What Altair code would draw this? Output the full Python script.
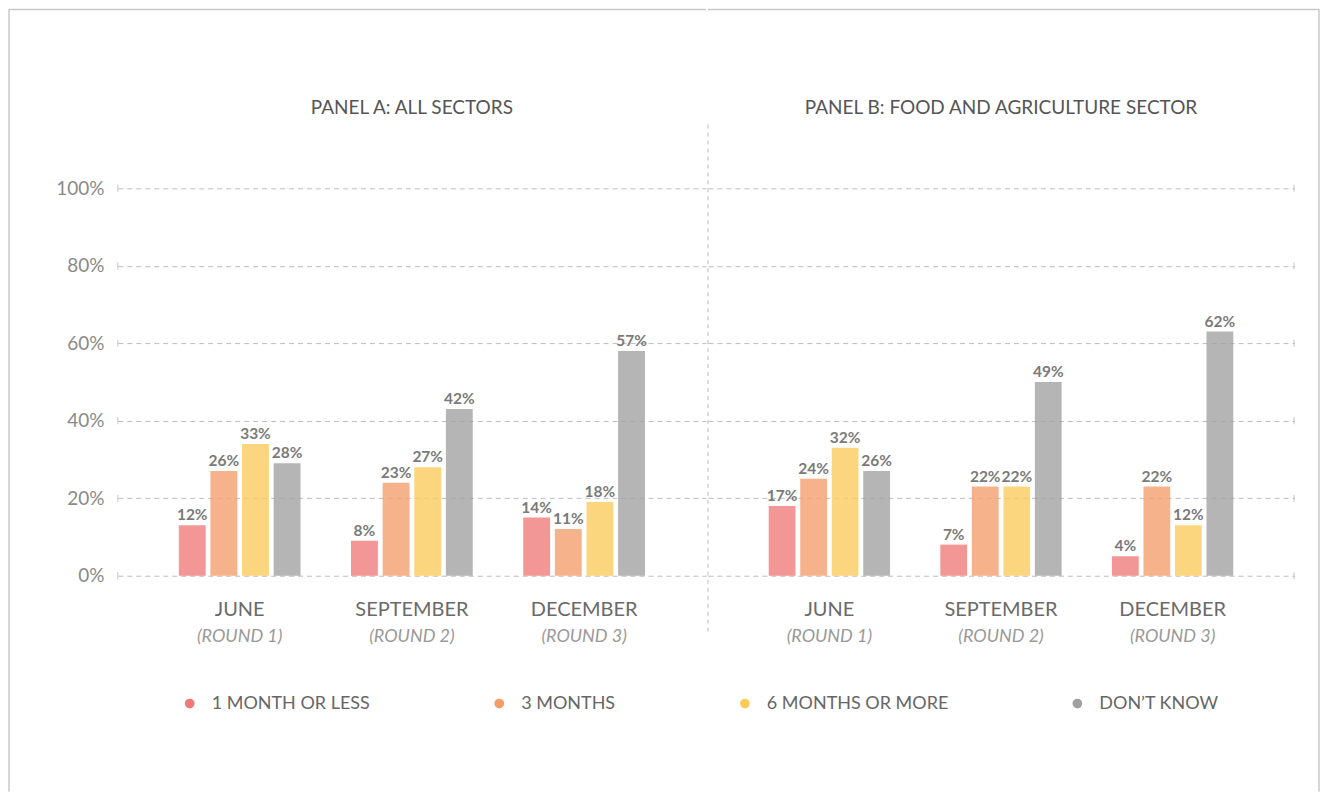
import altair as alt
import pandas as pd

# ---------------- data ----------------
months = ["JUNE", "SEPTEMBER", "DECEMBER"]
rounds = ["(ROUND 1)", "(ROUND 2)", "(ROUND 3)"]
series = ["1 MONTH OR LESS", "3 MONTHS", "6 MONTHS OR MORE", "DON\u2019T KNOW"]
panel_titles = ["PANEL A: ALL SECTORS", "PANEL B: FOOD AND AGRICULTURE SECTOR"]

a_one_month = [12, 8, 14]
a_three_months = [26, 23, 11]
a_six_months = [33, 27, 18]
a_dont_know = [28, 42, 57]

b_one_month = [17, 7, 4]
b_three_months = [24, 22, 22]
b_six_months = [32, 22, 12]
b_dont_know = [26, 49, 62]

y_ticks = [0, 20, 40, 60, 80, 100]
colors = ["#EF7A78", "#F49C6A", "#FBCB5A", "#A0A0A2"]

# ---------------- style ----------------
FONT = "Lato"
W_A, W_B, H = 589, 587, 388


def make_df(cols):
    rows = []
    for s, vals in zip(series, cols):
        for m, v in zip(months, vals):
            rows.append({"month": m, "series": s, "value": v, "label": f"{v}%"})
    return pd.DataFrame(rows)


df_a = make_df([a_one_month, a_three_months, a_six_months, a_dont_know])
df_b = make_df([b_one_month, b_three_months, b_six_months, b_dont_know])
month_df = pd.DataFrame({"month": months, "round": rounds})
tick_df = pd.DataFrame({"v": y_ticks})
one_df = pd.DataFrame({"k": [0]})

xscale = alt.Scale(domain=months, paddingInner=0.293, paddingOuter=0.354)
xoff_scale = alt.Scale(domain=series, paddingInner=0.15, paddingOuter=0)
yscale = alt.Scale(domain=[0, 100], nice=False)
color_scale = alt.Scale(domain=series, range=colors)

legend = alt.Legend(
    orient="none", legendX=63, legendY=507, direction="horizontal", title=None,
    symbolType="circle", symbolSize=95, symbolStrokeWidth=0, symbolOpacity=1,
    labelFont=FONT, labelFontSize=18, labelColor="#666666", labelOffset=13,
    labelLimit=400, columnPadding=120,
)

BORDER = "#c9c9c9"


def panel(df, title, width, first):
    yaxis = alt.Axis(
        values=y_ticks, grid=True, gridDash=[5, 4], gridColor="#bdbdbd", gridWidth=1,
        domain=False, ticks=False, labels=first, labelExpr="datum.value + '%'",
        labelFont=FONT, labelFontSize=19, labelColor="#8a8a8a", labelPadding=14,
        title=None,
    )
    x_enc = alt.X("month:N", scale=xscale, sort=months, axis=None)
    xo_enc = alt.XOffset("series:N", scale=xoff_scale, sort=series)
    y_enc = alt.Y("value:Q", scale=yscale, axis=yaxis, stack=None)

    base = alt.Chart(df)
    bars = base.mark_bar(opacity=0.78, yOffset=-4, y2Offset=-4).encode(
        x=x_enc, xOffset=xo_enc, y=y_enc,
        color=alt.Color("series:N", scale=color_scale, sort=series,
                        legend=legend if first else None),
    )
    labels = base.mark_text(
        font=FONT, fontSize=15.5, fontWeight="bold", color="#7a7a7a",
        baseline="alphabetic", dy=-9,
    ).encode(x=x_enc, xOffset=xo_enc,
             y=alt.Y("value:Q", scale=yscale, stack=None), text="label:N")

    caps = alt.Chart(tick_df).mark_tick(
        orient="vertical", size=7, thickness=1, color="#aaaaaa"
    ).encode(x=alt.value(0 if first else width), y=alt.Y("v:Q", scale=yscale))

    month_txt = alt.Chart(month_df).mark_text(
        font=FONT, fontSize=20, color="#6a6a6a", baseline="middle"
    ).encode(x=x_enc, y=alt.value(H + 34), text="month:N")
    round_txt = alt.Chart(month_df).mark_text(
        font=FONT, fontSize=18, fontStyle="italic", color="#999999", baseline="middle"
    ).encode(x=x_enc, y=alt.value(H + 61), text="round:N")

    title_txt = alt.Chart(pd.DataFrame({"t": [title]})).mark_text(
        font=FONT, fontSize=19, color="#555555", baseline="bottom", align="center"
    ).encode(x=alt.value(width / 2), y=alt.value(-70), text="t:N")

    layers = []
    if first:
        layers.append(alt.Chart(one_df).mark_rule(color=BORDER, strokeWidth=1.5).encode(
            x=alt.value(-109), y=alt.value(-179), y2=alt.value(H + 216)))
        layers.append(alt.Chart(one_df).mark_rule(color=BORDER, strokeWidth=1.5).encode(
            x=alt.value(-109), x2=alt.value(width), y=alt.value(-179)))
    else:
        layers.append(alt.Chart(one_df).mark_rule(color=BORDER, strokeWidth=1.5).encode(
            x=alt.value(0), x2=alt.value(612), y=alt.value(-179)))
        layers.append(alt.Chart(one_df).mark_rule(color=BORDER, strokeWidth=1.5).encode(
            x=alt.value(612), y=alt.value(-179), y2=alt.value(H + 216)))
        layers.append(alt.Chart(one_df).mark_rule(
            color="#bdbdbd", strokeWidth=1, strokeDash=[4, 4]
        ).encode(x=alt.value(0), y=alt.value(-64), y2=alt.value(H + 60)))

    layers += [bars, labels, caps, month_txt, round_txt, title_txt]
    return alt.layer(*layers).properties(width=width, height=H)


left = panel(df_a, panel_titles[0], W_A, True)
right = panel(df_b, panel_titles[1], W_B, False)

chart = (
    alt.hconcat(left, right, spacing=0)
    .resolve_scale(x="independent", y="independent", xOffset="independent", color="shared")
    .properties(padding=0, background="white")
    .configure_view(stroke=None)
)

chart.save("out.html", embed_options={"renderer": "svg", "actions": False})
